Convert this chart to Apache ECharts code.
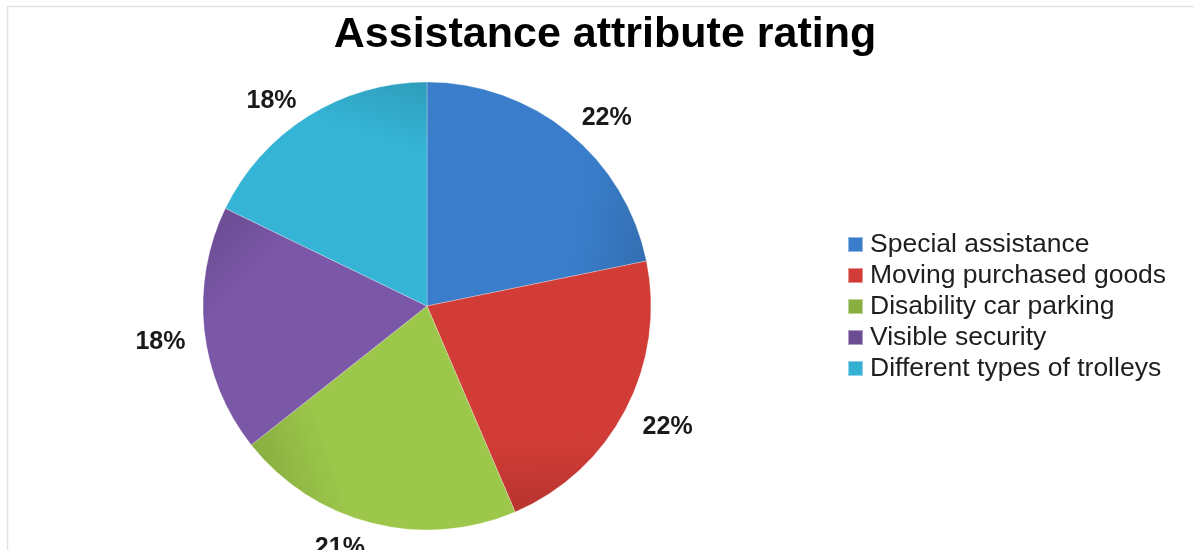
<!DOCTYPE html>
<html>
<head>
<meta charset="utf-8">
<script src="https://cdn.jsdelivr.net/npm/echarts@6/dist/echarts.min.js"></script>
<style>
  html, body { margin: 0; padding: 0; background: #ffffff; }
  #chart { width: 1194px; height: 550px; }
</style>
</head>
<body>
<div id="chart"></div>
<script>
// Assistance attribute ratings (share of responses)
const categories = [
  'Special assistance',
  'Moving purchased goods',
  'Disability car parking',
  'Visible security',
  'Different types of trolleys'
];
const shares = [22, 22, 21, 18, 18];
const palette = ['#3a7ecb', '#d23c37', '#9cc74a', '#7b57a8', '#35b4d6'];

const CX = 427, CY = 306, R = 224;
const LABEL_GAP = 13;              // distance of the label anchor beyond the rim
const LABEL_PUSH = [28, 6];        // label box pushed outward from its anchor
const LABEL_DROP = 4;              // small downward nudge of all labels
const total = shares.reduce((a, b) => a + b, 0);

function darken(hex, f) {
  const n = parseInt(hex.slice(1), 16);
  const r = Math.round(((n >> 16) & 255) * f);
  const g = Math.round(((n >> 8) & 255) * f);
  const b = Math.round((n & 255) * f);
  return 'rgb(' + r + ',' + g + ',' + b + ')';
}
function pt(theta, rad) {
  return [CX + rad * Math.sin(theta), CY - rad * Math.cos(theta)];
}

// angular extent of every slice, clockwise from 12 o'clock
let acc = 0;
const spans = shares.map(v => {
  const t0 = acc / total * Math.PI * 2;
  acc += v;
  return [t0, acc / total * Math.PI * 2];
});

// Each slice shades slightly darker toward its clockwise outer corner
const sliceData = shares.map((v, i) => {
  const [t0, t1] = spans[i];
  const a = pt((t0 + t1) / 2, R * 0.45);
  const b = pt(t1 - 0.04, R);
  return {
    name: categories[i],
    value: v,
    itemStyle: {
      color: {
        type: 'linear', global: true,
        x: a[0], y: a[1], x2: b[0], y2: b[1],
        colorStops: [
          { offset: 0, color: palette[i] },
          { offset: 0.55, color: palette[i] },
          { offset: 1, color: darken(palette[i], 0.88) }
        ]
      }
    }
  };
});

// Percentage labels sit just outside the rim, box pushed away from the pie
const labelData = shares.map((v, i) => {
  const mid = (spans[i][0] + spans[i][1]) / 2;
  const sx = Math.sin(mid) >= 0 ? 1 : -1;
  const sy = Math.cos(mid) >= 0 ? -1 : 1;
  return {
    name: categories[i],
    value: v,
    label: { offset: [sx * LABEL_PUSH[0], sy * LABEL_PUSH[1] + LABEL_DROP] }
  };
});

const chart = echarts.init(document.getElementById('chart'), null, { renderer: 'canvas' });

chart.setOption({
  animation: false,
  backgroundColor: '#ffffff',
  color: palette,
  graphic: [{
    type: 'rect',
    shape: { x: 7.5, y: 6.5, width: 1220, height: 600 },
    style: { fill: 'none', stroke: '#e2e2e2', lineWidth: 1.5 },
    silent: true,
    z: -10
  }],
  title: {
    text: 'Assistance attribute rating',
    left: 600,
    top: 9,
    textAlign: 'center',
    textStyle: {
      fontFamily: 'Liberation Sans, Arial, sans-serif',
      fontSize: 43,
      fontWeight: 'bold',
      color: '#000000'
    }
  },
  legend: {
    orient: 'vertical',
    left: 842,
    top: 226,
    itemWidth: 15,
    itemHeight: 15,
    itemGap: 4,
    icon: 'rect',
    data: categories,
    textStyle: {
      fontFamily: 'Liberation Sans, Arial, sans-serif',
      fontSize: 26.5,
      lineHeight: 25,
      color: '#1e1e1e',
      padding: [0, 0, 0, 2]
    }
  },
  series: [
    {
      type: 'pie',
      center: [CX, CY],
      radius: [0, R],
      startAngle: 90,
      clockwise: true,
      silent: true,
      data: sliceData,
      itemStyle: { borderColor: 'rgba(255,255,255,0.45)', borderWidth: 0.6 },
      label: { show: false },
      labelLine: { show: false }
    },
    {
      // invisible ring whose mid-radius carries the percentage labels
      type: 'pie',
      center: [CX, CY],
      radius: [0, 2 * (R + LABEL_GAP)],
      startAngle: 90,
      clockwise: true,
      silent: true,
      data: labelData,
      itemStyle: { color: 'rgba(0,0,0,0)', borderWidth: 0 },
      label: {
        show: true,
        position: 'inside',
        formatter: p => Math.round(p.value / total * 100) + '%',
        fontFamily: 'Liberation Sans, Arial, sans-serif',
        fontSize: 25,
        fontWeight: 'bold',
        color: '#1a1a1a'
      },
      labelLine: { show: false },
      emphasis: { disabled: true }
    }
  ]
});
</script>
</body>
</html>
